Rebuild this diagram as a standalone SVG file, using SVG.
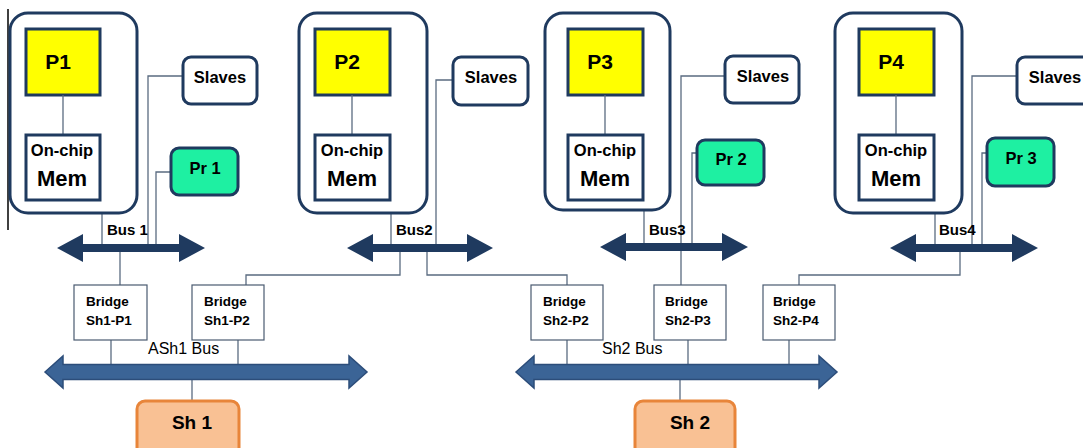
<svg xmlns="http://www.w3.org/2000/svg" width="1083" height="448" viewBox="0 0 1083 448">
<style>
.cont{fill:#fff;stroke:#1f3a5f;stroke-width:3}
.proc{fill:#ffff00;stroke:#1f3a5f;stroke-width:3}
.mem{fill:#fff;stroke:#1f3a5f;stroke-width:3}
.slv{fill:#fff;stroke:#1f3a5f;stroke-width:3}
.pr{fill:#1ef0a2;stroke:#1f3a5f;stroke-width:3}
.br{fill:#fff;stroke:#4a5a70;stroke-width:1.2}
.sh{fill:#f9c194;stroke:#e8853a;stroke-width:3}
.ln{fill:none;stroke:#5a6b80;stroke-width:1.3}
.bus{fill:#1f3a5f}
.sbus{fill:#3b6496;stroke:#2c4d7a;stroke-width:1.5}
text{font-family:"Liberation Sans",Arial,sans-serif;fill:#000}
.pl{font-size:21px;font-weight:bold;text-anchor:middle}
.oc{font-size:16.5px;font-weight:bold;text-anchor:middle}
.mm{font-size:22px;font-weight:bold;text-anchor:middle}
.st{font-size:16.5px;font-weight:bold;text-anchor:middle}
.bt{font-size:15px;font-weight:bold}
.bg{font-size:13.5px;font-weight:bold}
.sb{font-size:16px}
.sht{font-size:19px;font-weight:bold;text-anchor:middle}
</style>

<line x1="8" y1="9" x2="8" y2="230" stroke="#000" stroke-width="1.5"/>

<g id="connectors">
<path class="ln" d="M102 213V248"/>
<path class="ln" d="M183 76H148V248"/>
<path class="ln" d="M171 172H156V248"/>
<path class="ln" d="M120 248V285"/>
<path class="ln" d="M391 213V248"/>
<path class="ln" d="M453 80H436V248"/>
<path class="ln" d="M400 248V275H246V285"/>
<path class="ln" d="M427 248V275H567V285"/>
<path class="ln" d="M644 210V247"/>
<path class="ln" d="M725 76H681V285"/>
<path class="ln" d="M697 153H692V247"/>
<path class="ln" d="M935 213V248"/>
<path class="ln" d="M1017 76H972V248"/>
<path class="ln" d="M987 153H982V248"/>
<path class="ln" d="M960 248V275H799V285"/>
<path class="ln" d="M111 340V372"/>
<path class="ln" d="M238 340V372"/>
<path class="ln" d="M567 340V372"/>
<path class="ln" d="M688 340V372"/>
<path class="ln" d="M789 340V372"/>
<path class="ln" d="M192 372V401"/>
<path class="ln" d="M680 372V401"/>
</g>

<g id="buses">
<path id="bus1" class="bus" d="M57 248L83 234V244H179V234L205 248L179 262V252H83V262Z"/>
<path id="bus2" class="bus" d="M347 248L373 234V244H467V234L493 248L467 262V252H373V262Z"/>
<path id="bus3" class="bus" d="M600 247L626 233V243H722V233L748 247L722 261V251H626V261Z"/>
<path id="bus4" class="bus" d="M890 248L916 234V244H1012V234L1038 248L1012 262V252H916V262Z"/>
<path id="ash1bus" class="sbus" d="M45 372L63 356V364.5H349V356L367 372L349 388V379.5H63V388Z"/>
<path id="sh2bus" class="sbus" d="M516 372L534 356V364.5H819V356L837 372L819 388V379.5H534V388Z"/>
<text class="bt" x="107" y="235">Bus 1</text>
<text class="bt" x="396" y="235">Bus2</text>
<text class="bt" x="649" y="235">Bus3</text>
<text class="bt" x="939" y="235">Bus4</text>
<text class="sb" x="148" y="354">ASh1 Bus</text>
<text class="sb" x="602" y="354">Sh2 Bus</text>
</g>

<g id="cpu1">
<rect class="cont" x="10" y="13" width="127" height="200" rx="18"/>
<rect class="proc" x="26" y="29" width="74" height="66"/>
<line class="ln" x1="63" y1="95" x2="63" y2="135"/>
<rect class="mem" x="26" y="135" width="74" height="65"/>
<text class="pl" x="58" y="69">P1</text>
<text class="oc" x="62" y="156">On-chip</text>
<text class="mm" x="62" y="186">Mem</text>
</g>
<g id="cpu2">
<rect class="cont" x="299" y="13" width="128" height="200" rx="18"/>
<rect class="proc" x="315" y="29" width="75" height="66"/>
<line class="ln" x1="352" y1="95" x2="352" y2="135"/>
<rect class="mem" x="315" y="135" width="75" height="65"/>
<text class="pl" x="347" y="69">P2</text>
<text class="oc" x="352" y="156">On-chip</text>
<text class="mm" x="352" y="186">Mem</text>
</g>
<g id="cpu3">
<rect class="cont" x="545" y="13" width="125" height="197" rx="18"/>
<rect class="proc" x="568" y="29" width="75" height="66"/>
<line class="ln" x1="605" y1="95" x2="605" y2="135"/>
<rect class="mem" x="568" y="135" width="75" height="65"/>
<text class="pl" x="600" y="69">P3</text>
<text class="oc" x="605" y="156">On-chip</text>
<text class="mm" x="605" y="186">Mem</text>
</g>
<g id="cpu4">
<rect class="cont" x="835" y="13" width="127" height="200" rx="18"/>
<rect class="proc" x="859" y="29" width="75" height="66"/>
<line class="ln" x1="896" y1="95" x2="896" y2="135"/>
<rect class="mem" x="859" y="135" width="75" height="65"/>
<text class="pl" x="891" y="69">P4</text>
<text class="oc" x="896" y="156">On-chip</text>
<text class="mm" x="896" y="186">Mem</text>
</g>

<g id="slaves1"><rect class="slv" x="183" y="57" width="74" height="47" rx="8"/><text class="st" x="220" y="83">Slaves</text></g>
<g id="slaves2"><rect class="slv" x="453" y="57" width="75" height="48" rx="8"/><text class="st" x="491" y="83">Slaves</text></g>
<g id="slaves3"><rect class="slv" x="725" y="56" width="74" height="47" rx="8"/><text class="st" x="763" y="82">Slaves</text></g>
<g id="slaves4"><rect class="slv" x="1017" y="57" width="74" height="47" rx="8"/><text class="st" x="1055" y="83">Slaves</text></g>

<g id="pr1"><rect class="pr" x="171" y="148" width="67" height="47" rx="8"/><text class="st" x="205" y="174">Pr 1</text></g>
<g id="pr2"><rect class="pr" x="697" y="140" width="67" height="45" rx="8"/><text class="st" x="731" y="165">Pr 2</text></g>
<g id="pr3"><rect class="pr" x="987" y="138" width="67" height="48" rx="8"/><text class="st" x="1021" y="164">Pr 3</text></g>

<g id="bridge_sh1_p1"><rect class="br" x="74" y="285" width="73" height="55"/><text class="bg" x="86" y="306">Bridge</text><text class="bg" x="86" y="325">Sh1-P1</text></g>
<g id="bridge_sh1_p2"><rect class="br" x="192" y="285" width="72" height="55"/><text class="bg" x="204" y="306">Bridge</text><text class="bg" x="204" y="325">Sh1-P2</text></g>
<g id="bridge_sh2_p2"><rect class="br" x="531" y="285" width="72" height="55"/><text class="bg" x="543" y="306">Bridge</text><text class="bg" x="543" y="325">Sh2-P2</text></g>
<g id="bridge_sh2_p3"><rect class="br" x="654" y="285" width="72" height="55"/><text class="bg" x="665" y="306">Bridge</text><text class="bg" x="665" y="325">Sh2-P3</text></g>
<g id="bridge_sh2_p4"><rect class="br" x="763" y="285" width="72" height="55"/><text class="bg" x="773" y="306">Bridge</text><text class="bg" x="773" y="325">Sh2-P4</text></g>

<g id="sh1"><rect class="sh" x="137" y="401" width="102" height="56" rx="8"/><text class="sht" x="192" y="429">Sh 1</text></g>
<g id="sh2"><rect class="sh" x="635" y="401" width="100" height="56" rx="8"/><text class="sht" x="690" y="429">Sh 2</text></g>
</svg>
